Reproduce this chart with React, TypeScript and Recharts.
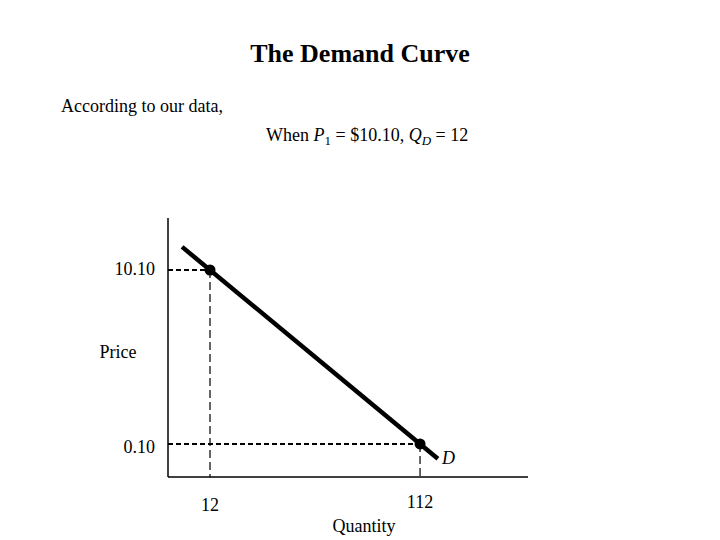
import React from 'react';
import { ComposedChart, Line, Scatter, XAxis, YAxis, ReferenceLine } from 'recharts';

const FONT = '"Liberation Serif", "Times New Roman", serif';

// Demand line endpoints (quantity, price)
const demandLine = [
  { q: -1.3, p: 11.43 },
  { q: 120.5, p: -0.75 },
];
// Highlighted points
const points = [
  { q: 12, p: 10.1 },
  { q: 112, p: 0.1 },
];
const xTicks = [12, 112];
const yTicks = [0.1, 10.1];
const xDomain = [-8, 163.4];
const yDomain = [-1.8, 13.09];

const XTick = (props: any) => {
  const { x, y, payload } = props;
  const dy = payload.value === 112 ? 23 : 26;
  return (
    <text x={x} y={y + dy} textAnchor="middle" fontFamily={FONT} fontSize={18} fill="#000">
      {String(payload.value)}
    </text>
  );
};

const YTick = (props: any) => {
  const { x, y, payload } = props;
  const dy = payload.value > 5 ? 5 : 9;
  return (
    <text x={x - 5} y={y + dy} textAnchor="end" fontFamily={FONT} fontSize={18} fill="#000">
      {payload.value.toFixed(2)}
    </text>
  );
};

export default function App() {
  return (
    <div style={{ position: 'absolute', left: 0, top: 0, width: 720, height: 540, background: '#fff' }}>
      <ComposedChart
        width={720}
        height={540}
        margin={{ left: 108, top: 218, right: 192, bottom: 33 }}
      >
        <XAxis
          type="number"
          dataKey="q"
          domain={xDomain}
          ticks={xTicks}
          tick={<XTick />}
          tickLine={false}
          axisLine={{ stroke: '#000', strokeWidth: 1.5 }}
          allowDataOverflow
          height={30}
        />
        <YAxis
          type="number"
          dataKey="p"
          domain={yDomain}
          ticks={yTicks}
          tick={<YTick />}
          tickLine={false}
          axisLine={{ stroke: '#000', strokeWidth: 1.5 }}
          allowDataOverflow
          width={60}
        />
        <ReferenceLine
          segment={[{ x: xDomain[0], y: points[0].p }, { x: points[0].q, y: points[0].p }]}
          stroke="#000"
          strokeWidth={2}
          strokeDasharray="5 3"
        />
        <ReferenceLine
          segment={[{ x: xDomain[0], y: points[1].p }, { x: points[1].q, y: points[1].p }]}
          stroke="#000"
          strokeWidth={2}
          strokeDasharray="5 3"
        />
        <ReferenceLine
          segment={[{ x: points[0].q, y: points[0].p }, { x: points[0].q, y: yDomain[0] }]}
          stroke="#000"
          strokeWidth={1.2}
          strokeDasharray="8 4"
        />
        <ReferenceLine
          segment={[{ x: points[1].q, y: points[1].p }, { x: points[1].q, y: yDomain[0] }]}
          stroke="#000"
          strokeWidth={1.2}
          strokeDasharray="8 4"
        />
        <Line
          data={demandLine}
          dataKey="p"
          stroke="#000"
          strokeWidth={4.5}
          dot={false}
          activeDot={false}
          isAnimationActive={false}
          legendType="none"
        />
        <Scatter
          data={points}
          dataKey="p"
          fill="#000"
          isAnimationActive={false}
          shape={(p: any) => <circle cx={p.cx} cy={p.cy} r={5.5} fill="#000" />}
        />
      </ComposedChart>
      <svg width={720} height={540} style={{ position: 'absolute', left: 0, top: 0, pointerEvents: 'none' }}>
        <text x={360} y={62} textAnchor="middle" fontFamily={FONT} fontSize={26} fontWeight="bold" fill="#000">
          The Demand Curve
        </text>
        <text x={61} y={112} fontFamily={FONT} fontSize={18} fill="#000">
          According to our data,
        </text>
        <text x={266} y={141} fontFamily={FONT} fontSize={18} fill="#000">
          When <tspan fontStyle="italic">P</tspan>
          <tspan fontSize={13} dy={4}>1</tspan>
          <tspan dy={-4}> = $10.10, </tspan>
          <tspan fontStyle="italic">Q</tspan>
          <tspan fontStyle="italic" fontSize={13} dy={4}>D</tspan>
          <tspan dy={-4}> = 12</tspan>
        </text>
        <text x={118} y={358} textAnchor="middle" fontFamily={FONT} fontSize={18} fill="#000">
          Price
        </text>
        <text x={364} y={532} textAnchor="middle" fontFamily={FONT} fontSize={18} fill="#000">
          Quantity
        </text>
        <text x={442} y={464} fontFamily={FONT} fontSize={18} fontStyle="italic" fill="#000">
          D
        </text>
      </svg>
    </div>
  );
}
